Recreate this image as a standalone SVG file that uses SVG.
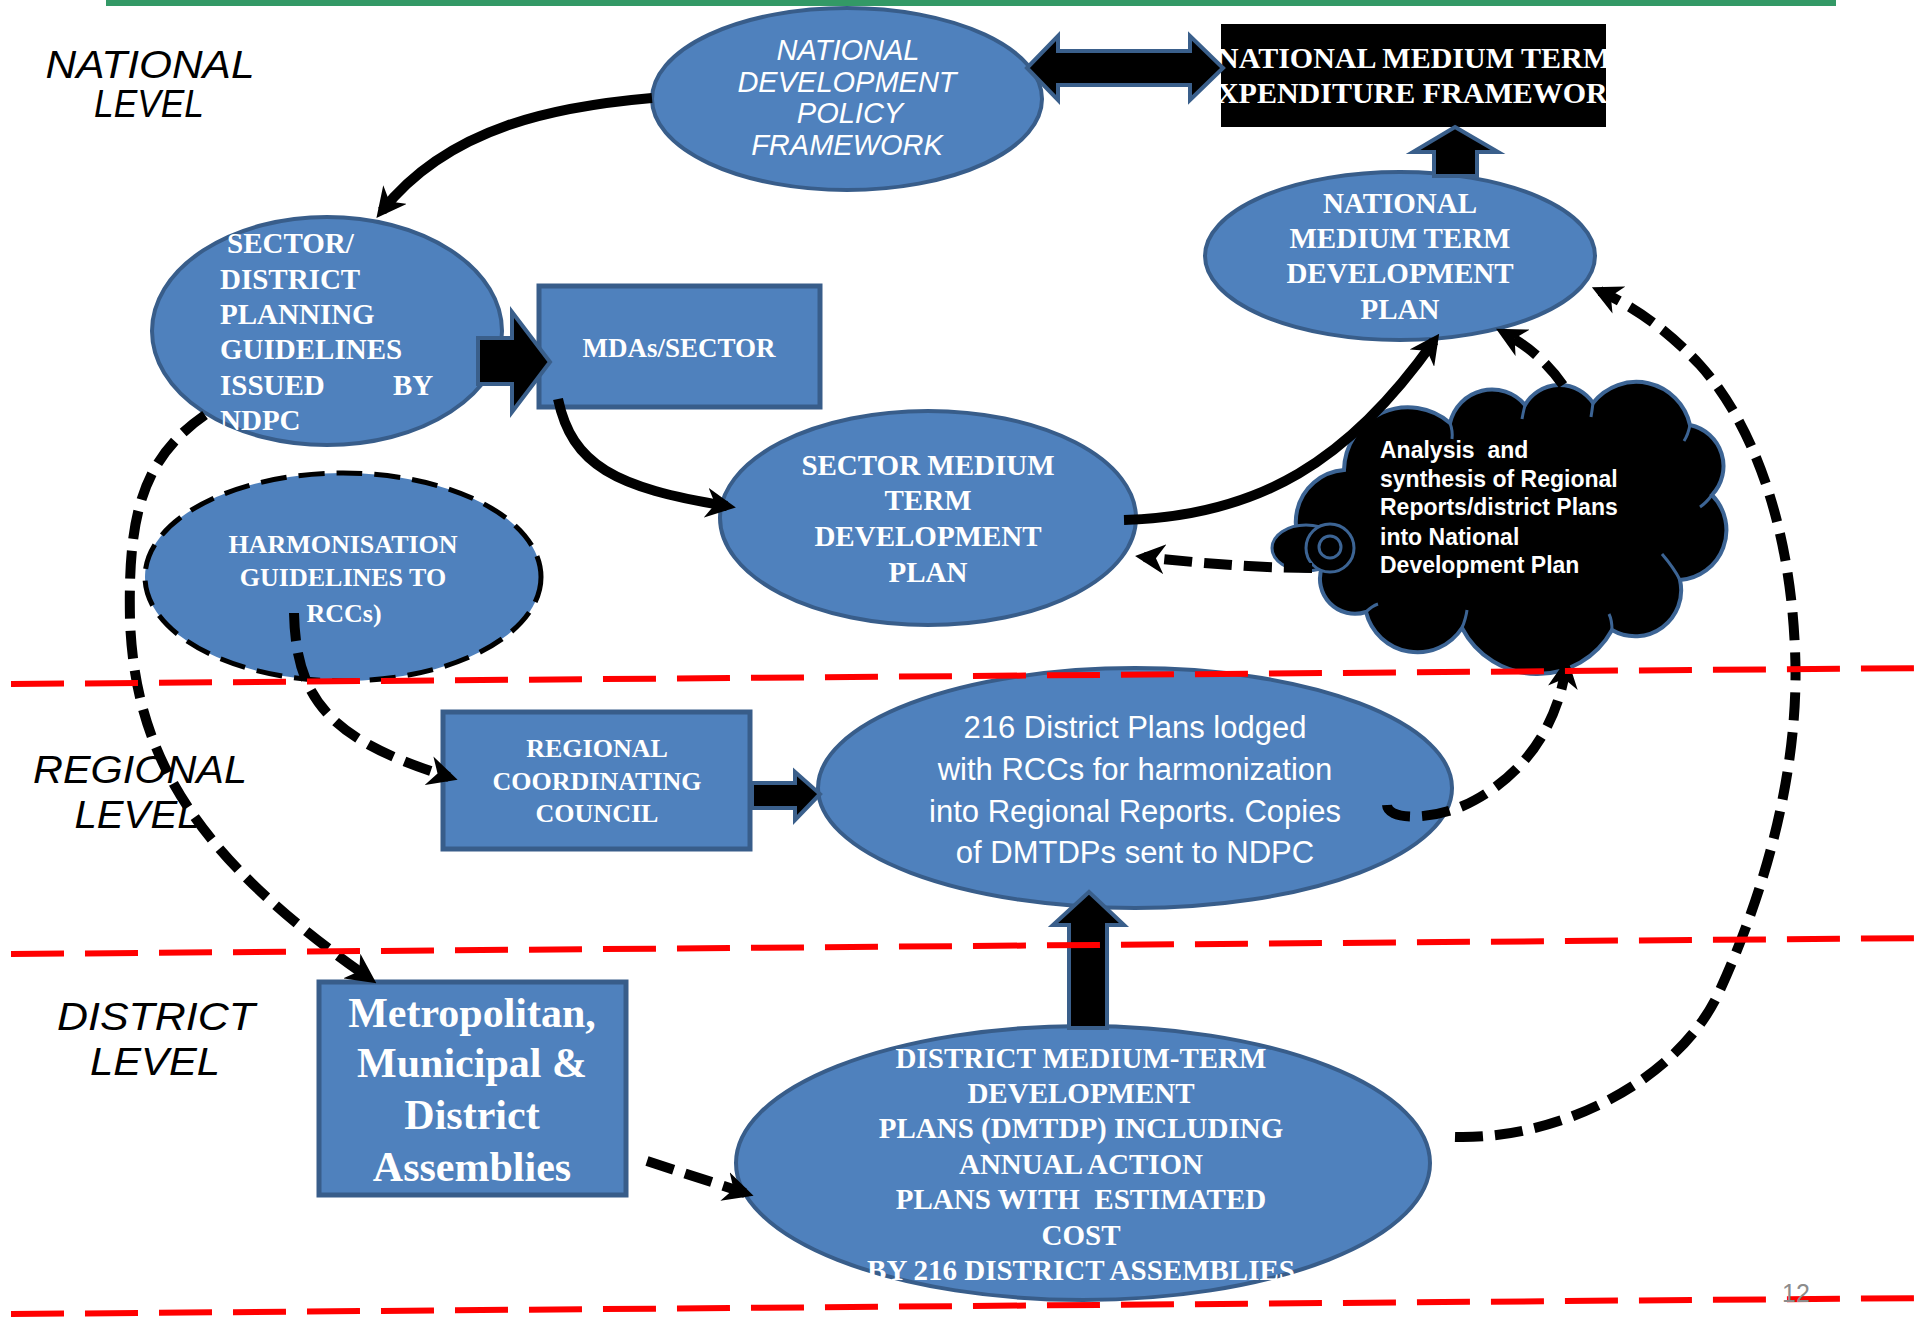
<svg xmlns="http://www.w3.org/2000/svg" width="1932" height="1318" viewBox="0 0 1932 1318">
<style>
.lvl{font-family:"Liberation Sans",Arial,sans-serif;font-style:italic;font-size:38px;fill:#000;text-anchor:middle}
.nd{fill:#4f81bd;stroke:#385d8a;stroke-width:4}
.bx{fill:#4f81bd;stroke:#385d8a;stroke-width:5}
.sb{font-family:"Liberation Serif","Times New Roman",serif;font-weight:bold;fill:#fff;text-anchor:middle}
.ital{font-family:"Liberation Sans",Arial,sans-serif;font-style:italic;font-size:29px;fill:#fff;text-anchor:middle}
.blk{fill:#000;stroke:#3a5f8b;stroke-width:4;stroke-linejoin:miter}
.c{fill:none;stroke:#000;stroke-width:10;marker-end:url(#ah)}
.d{stroke-width:10;stroke-dasharray:28 12}
.red{fill:none;stroke:#ff0000;stroke-width:6;stroke-dasharray:53 21}
.cl{fill:#000;stroke:#3c6494;stroke-width:4}
</style>
<defs>
<marker id="ah" markerUnits="userSpaceOnUse" viewBox="0 0 30 30" markerWidth="30" markerHeight="30" refX="21" refY="15" orient="auto">
<path d="M30,15 L0,0 L9,15 L0,30 Z" fill="#000"/>
</marker>
<clipPath id="nmclip"><rect x="1221" y="24" width="385" height="103"/></clipPath>
</defs>
<rect id="green-bar" x="106" y="0" width="1730" height="6" fill="#339966"/>

<g id="level-labels">
<text class="lvl" x="150" y="78" textLength="209" lengthAdjust="spacingAndGlyphs">NATIONAL</text>
<text class="lvl" x="149" y="117" textLength="110" lengthAdjust="spacingAndGlyphs">LEVEL</text>
<text class="lvl" x="140" y="783" textLength="214" lengthAdjust="spacingAndGlyphs">REGIONAL</text>
<text class="lvl" x="137" y="828" textLength="125" lengthAdjust="spacingAndGlyphs">LEVEL</text>
<text class="lvl" x="156" y="1030" textLength="198" lengthAdjust="spacingAndGlyphs">DISTRICT</text>
<text class="lvl" x="155" y="1075" textLength="130" lengthAdjust="spacingAndGlyphs">LEVEL</text>
</g>

<g id="ndpf">
<ellipse class="nd" cx="847" cy="99" rx="195" ry="91"/>
<text class="ital" x="848" y="60">NATIONAL</text>
<text class="ital" x="847" y="92">DEVELOPMENT</text>
<text class="ital" x="850" y="123">POLICY</text>
<text class="ital" x="847" y="155">FRAMEWORK</text>
</g>

<g id="nmtef">
<rect x="1221" y="24" width="385" height="103" fill="#000"/>
<g clip-path="url(#nmclip)">
<text class="sb" x="1414" y="68" font-size="30">NATIONAL MEDIUM TERM</text>
<text class="sb" x="1414" y="103" font-size="30">EXPENDITURE FRAMEWORK</text>
</g>
</g>

<g id="nmtdp">
<ellipse class="nd" cx="1400" cy="256" rx="195" ry="84"/>
<text class="sb" x="1400" y="213" font-size="29">NATIONAL</text>
<text class="sb" x="1400" y="248" font-size="29">MEDIUM TERM</text>
<text class="sb" x="1400" y="283" font-size="29">DEVELOPMENT</text>
<text class="sb" x="1400" y="319" font-size="29">PLAN</text>
</g>

<g id="sector-guidelines">
<ellipse class="nd" cx="327" cy="331" rx="175" ry="114"/>
<g font-family="'Liberation Serif','Times New Roman',serif" font-weight="bold" font-size="29" fill="#fff">
<text x="227" y="253">SECTOR/</text>
<text x="220" y="289">DISTRICT</text>
<text x="220" y="324">PLANNING</text>
<text x="220" y="359">GUIDELINES</text>
<text x="220" y="395">ISSUED</text>
<text x="393" y="395">BY</text>
<text x="220" y="430">NDPC</text>
</g>
</g>

<g id="mdas">
<rect class="bx" x="539" y="286" width="281" height="121"/>
<text class="sb" x="679" y="357" font-size="27">MDAs/SECTOR</text>
</g>

<g id="smtdp">
<ellipse class="nd" cx="928" cy="518" rx="208" ry="107"/>
<text class="sb" x="928" y="475" font-size="29">SECTOR MEDIUM</text>
<text class="sb" x="928" y="510" font-size="29">TERM</text>
<text class="sb" x="928" y="546" font-size="29">DEVELOPMENT</text>
<text class="sb" x="928" y="582" font-size="29">PLAN</text>
</g>

<g id="harmonisation">
<ellipse cx="343" cy="577" rx="198" ry="104" fill="#4f81bd" stroke="#000" stroke-width="5" stroke-dasharray="26 12"/>
<text class="sb" x="343" y="553" font-size="26">HARMONISATION</text>
<text class="sb" x="343" y="586" font-size="26">GUIDELINES TO</text>
<text class="sb" x="344" y="622" font-size="26">RCCs)</text>
</g>

<g id="cloud">
<path class="cl" d="M1344,470 A64,64 0 0 1 1450,423 A43,43 0 0 1 1525,405 A40,40 0 0 1 1593,403 A55,55 0 0 1 1690,425 A42,42 0 0 1 1712,495 A50,50 0 0 1 1680,580 A46,46 0 0 1 1612,630 A85,85 0 0 1 1462,628 A53,53 0 0 1 1366,612 A35,35 0 0 1 1322,567 A52,52 0 0 1 1344,470 Z"/>
<g fill="none" stroke="#3c6494" stroke-width="3">
<path d="M1450,423 q3,8 2,16"/>
<path d="M1525,405 q-2,8 -3,14"/>
<path d="M1593,403 q-1,8 -2,14"/>
<path d="M1690,425 q-2,10 -6,16"/>
<path d="M1712,495 q-6,8 -12,12"/>
<path d="M1680,580 q-6,-12 -18,-26"/>
<path d="M1612,630 q0,-10 -3,-16"/>
<path d="M1462,628 q4,-10 5,-18"/>
<path d="M1366,612 q6,-6 12,-8"/>
</g>
<ellipse cx="1306" cy="548" rx="34" ry="23" fill="#000" stroke="#3c6494" stroke-width="3"/>
<circle cx="1330" cy="548" r="24" fill="#000" stroke="#3c6494" stroke-width="3"/>
<circle cx="1330" cy="547" r="11" fill="none" stroke="#3c6494" stroke-width="3"/>
<g font-family="'Liberation Sans',Arial,sans-serif" font-weight="bold" font-size="23" fill="#fff">
<text x="1380" y="458" xml:space="preserve">Analysis  and</text>
<text x="1380" y="487">synthesis of Regional</text>
<text x="1380" y="515">Reports/district Plans</text>
<text x="1380" y="545">into National</text>
<text x="1380" y="573">Development Plan</text>
</g>
</g>

<g id="rcc">
<rect class="bx" x="443" y="712" width="307" height="137"/>
<text class="sb" x="597" y="757" font-size="26">REGIONAL</text>
<text class="sb" x="597" y="790" font-size="26">COORDINATING</text>
<text class="sb" x="597" y="822" font-size="26">COUNCIL</text>
</g>

<g id="district-plans">
<ellipse class="nd" cx="1135" cy="788" rx="317" ry="120"/>
<g font-family="'Liberation Sans',Arial,sans-serif" font-size="31" fill="#fff" text-anchor="middle">
<text x="1135" y="738">216 District Plans lodged</text>
<text x="1135" y="780">with RCCs for harmonization</text>
<text x="1135" y="822">into Regional Reports. Copies</text>
<text x="1135" y="863">of DMTDPs sent to NDPC</text>
</g>
</g>

<g id="mmda">
<rect class="bx" x="319" y="982" width="307" height="213"/>
<text class="sb" x="472" y="1027" font-size="42">Metropolitan,</text>
<text class="sb" x="472" y="1077" font-size="42">Municipal &amp;</text>
<text class="sb" x="472" y="1129" font-size="42">District</text>
<text class="sb" x="472" y="1181" font-size="42">Assemblies</text>
</g>

<g id="dmtdp">
<ellipse class="nd" cx="1083" cy="1163" rx="347" ry="137"/>
<text class="sb" x="1081" y="1068" font-size="29">DISTRICT MEDIUM-TERM</text>
<text class="sb" x="1081" y="1103" font-size="29">DEVELOPMENT</text>
<text class="sb" x="1081" y="1138" font-size="29">PLANS (DMTDP) INCLUDING</text>
<text class="sb" x="1081" y="1174" font-size="29">ANNUAL ACTION</text>
<text class="sb" x="1081" y="1209" font-size="29" xml:space="preserve">PLANS WITH  ESTIMATED</text>
<text class="sb" x="1081" y="1245" font-size="29">COST</text>
<text class="sb" x="1081" y="1280" font-size="29">BY 216 DISTRICT ASSEMBLIES</text>
</g>

<g id="connectors">
<polygon class="blk" points="1027,68 1058,36 1058,51 1190,51 1190,36 1223,68 1190,100 1190,85 1058,85 1058,100"/>
<polygon class="blk" points="1455,127 1498,152 1477,152 1477,176 1434,176 1434,152 1413,152"/>
<polygon class="blk" points="478,338 512,338 512,312 550,362 512,412 512,384 478,384"/>
<polygon class="blk" points="752,783 795,783 795,772 820,794 795,820 795,808 752,808"/>
<polygon class="blk" points="1089,892 1124,925 1107,925 1107,1028 1069,1028 1069,925 1053,925"/>
<path class="c" d="M652,98 C560,106 450,125 382,211"/>
<path class="c" d="M558,399 C572,465 615,488 727,506"/>
<path class="c" d="M1124,520 C1260,516 1350,460 1434,341"/>
<path class="c d" d="M1563,385 Q1540,352 1504,333"/>
<path class="c d" d="M1455,1137 C1560,1140 1680,1080 1720,990 C1770,880 1800,760 1795,650 C1790,520 1750,420 1700,365 C1670,333 1640,310 1600,291"/>
<path class="c d" d="M1387,805 C1388,822 1440,820 1475,800 C1530,770 1558,720 1566,667"/>
<path class="c d" d="M1312,568 C1250,568 1190,562 1144,557"/>
<path class="c d" d="M205,415 C140,460 128,520 130,620 C135,760 200,860 369,978"/>
<path class="c d" d="M294,613 C296,700 330,740 449,777"/>
<path class="c d" d="M647,1161 L745,1193"/>
</g>

<g id="level-dividers">
<line class="red" x1="11" y1="684" x2="1932" y2="668"/>
<line class="red" x1="11" y1="954" x2="1932" y2="938"/>
<line class="red" x1="11" y1="1314" x2="1932" y2="1298"/>
</g>

<text x="1782" y="1302" font-family="'Liberation Sans',Arial,sans-serif" font-size="25" fill="#8c8c8c">12</text>
</svg>
